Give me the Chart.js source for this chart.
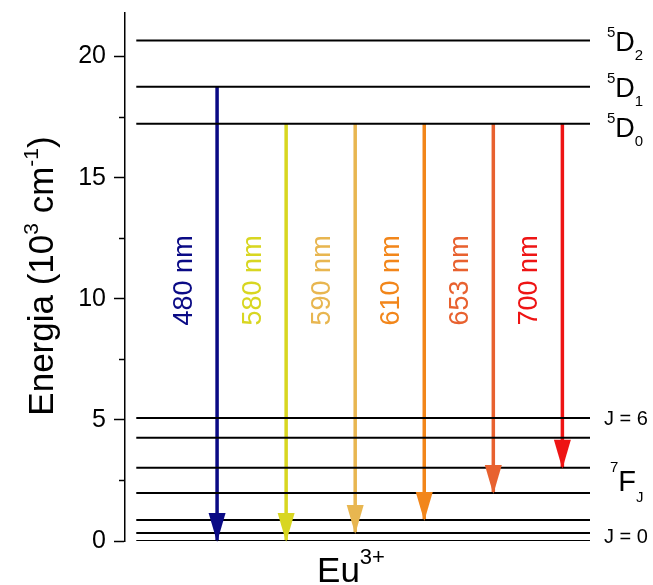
<!DOCTYPE html>
<html>
<head>
<meta charset="utf-8">
<script src="https://cdn.jsdelivr.net/npm/chart.js@4.4.0/dist/chart.umd.min.js"></script>
<style>
  html, body { margin: 0; padding: 0; background: #fff; }
</style>
</head>
<body>
<canvas id="graficoEu" width="653" height="585"></canvas>
<script>
// níveis de energia do Eu3+ (10^3 cm-1)
const niveisF = [0, 0.33, 0.87, 1.98, 3.02, 4.26, 5.08];   // 7F_J, J = 0..6
const niveisD = [17.23, 18.76, 20.66];                      // 5D_0, 5D_1, 5D_2
const rotulosD = ['0', '1', '2'];

// transições (setas)
const comprimentos = ['480 nm', '580 nm', '590 nm', '610 nm', '653 nm', '700 nm'];
const energiaInicial = [18.76, 17.23, 17.23, 17.23, 17.23, 17.23];
const energiaFinal = [0, 0, 0.33, 0.87, 1.98, 3.02];

const cores = ['#0a0a85', '#d8d621', '#e8b650', '#f2861a', '#e8612f', '#ee1414'];
const fonte = 'Arial, "Liberation Sans", sans-serif';

const datasets = [];
// linhas horizontais dos níveis
[...niveisF, ...niveisD].forEach((v) => {
  datasets.push({
    data: [{ x: -0.17, y: v }, { x: 6.4, y: v }],
    borderColor: '#000', borderWidth: 2, pointRadius: 0
  });
});
// hastes das setas
comprimentos.forEach((c, i) => {
  datasets.push({
    data: [{ x: i + 1, y: energiaInicial[i] }, { x: i + 1, y: energiaFinal[i] }],
    borderColor: cores[i], borderWidth: 3.5, pointRadius: 0, borderCapStyle: 'butt'
  });
});

// escreve texto com sobrescrito / subscrito: partes = [texto, tamanho, deslocamento]
function textoRico(ctx, partes, x, y, alinhar) {
  let total = 0;
  partes.forEach((p) => {
    ctx.font = p[1] + 'px ' + fonte;
    total += ctx.measureText(p[0]).width;
  });
  let cx = alinhar === 'center' ? x - total / 2 : x;
  ctx.textAlign = 'left';
  ctx.textBaseline = 'alphabetic';
  partes.forEach((p) => {
    ctx.font = p[1] + 'px ' + fonte;
    ctx.fillText(p[0], cx, y + (p[2] || 0));
    cx += ctx.measureText(p[0]).width;
  });
}

const desenho = {
  id: 'desenho',
  afterDraw(chart) {
    const ctx = chart.ctx;
    const sx = chart.scales.x;
    const sy = chart.scales.y;
    const esq = chart.chartArea.left;
    ctx.save();

    // ticks menores do eixo y
    ctx.strokeStyle = '#000';
    ctx.lineWidth = 1.5;
    for (let v = 2.5; v < sy.max; v += 5) {
      const p = Math.round(sy.getPixelForValue(v)) + 0.5;
      ctx.beginPath();
      ctx.moveTo(esq - 6, p);
      ctx.lineTo(esq, p);
      ctx.stroke();
    }

    // pontas das setas e rótulos
    comprimentos.forEach((c, i) => {
      const px = sx.getPixelForValue(i + 1);
      const pf = sy.getPixelForValue(energiaFinal[i]);
      ctx.fillStyle = cores[i];
      ctx.beginPath();
      ctx.moveTo(px, pf + 1);
      ctx.lineTo(px - 8.5, pf - 28);
      ctx.lineTo(px + 8.5, pf - 28);
      ctx.closePath();
      ctx.fill();

      ctx.save();
      ctx.translate(px - 33, sy.getPixelForValue(8.9));
      ctx.rotate(-Math.PI / 2);
      ctx.font = '27px ' + fonte;
      ctx.textAlign = 'left';
      ctx.textBaseline = 'middle';
      ctx.fillText(c, 0, 0);
      ctx.restore();
    });

    ctx.fillStyle = '#000';
    // rótulos 5D_J
    niveisD.forEach((v, i) => {
      const p = sy.getPixelForValue(v) + 10 + (i === 0 ? 3 : 0);
      textoRico(ctx, [['5', 15, -14], ['D', 27, 0], [rotulosD[i], 15, 9]], 607, p);
    });
    // rótulos 7F_J
    textoRico(ctx, [['J = 6', 20, 0]], 604, sy.getPixelForValue(niveisF[6]) + 7);
    textoRico(ctx, [['J = 0', 20, 0]], 604, sy.getPixelForValue(niveisF[0]) + 2);
    const meioF = sy.getPixelForValue((niveisF[3] + niveisF[4]) / 2) + 11;
    textoRico(ctx, [['7', 15, -19], ['F', 29, 0], ['J', 15, 11]], 610, meioF);

    // Eu3+
    textoRico(ctx, [['Eu', 35, 0], ['3+', 22, -18]], 351, 582, 'center');

    // título do eixo y
    ctx.save();
    ctx.translate(53, 276);
    ctx.rotate(-Math.PI / 2);
    textoRico(ctx, [['Energia (10', 35, 0], ['3', 21, -15], [' cm', 35, 0], ['-1', 21, -15], [')', 35, 0]], 0, 0, 'center');
    ctx.restore();

    ctx.restore();
  }
};

const grafico = new Chart(document.getElementById('graficoEu'), {
  type: 'line',
  data: { datasets: datasets },
  options: {
    responsive: false,
    animation: false,
    devicePixelRatio: 1,
    layout: { padding: { top: 13, bottom: 44, left: 0, right: 63 } },
    plugins: { legend: { display: false }, tooltip: { enabled: false } },
    scales: {
      x: { type: 'linear', min: -1 / 3, max: 6.4, display: false },
      y: {
        min: 0,
        max: 21.8,
        afterFit(s) {
          s.width = 125;
          s.paddingTop = 0;
          s.paddingBottom = 0;
        },
        border: { color: '#000', width: 1.5 },
        grid: { drawOnChartArea: false, tickLength: 11, tickColor: '#000', tickWidth: 1.5 },
        ticks: { stepSize: 5, includeBounds: false, color: '#000', padding: 8, font: { family: fonte, size: 25 } }
      }
    }
  },
  plugins: [desenho]
});
</script>
</body>
</html>
